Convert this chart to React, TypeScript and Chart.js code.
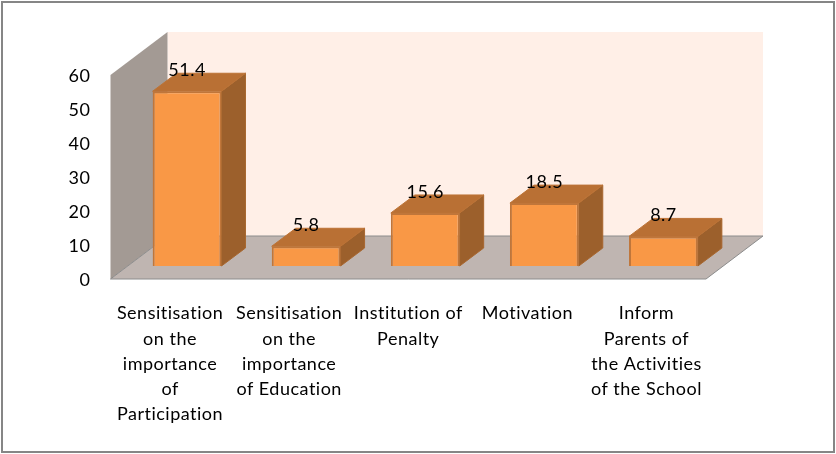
import React, { useEffect, useRef } from "react";
import { Chart, registerables, Plugin } from "chart.js";

Chart.register(...registerables);

const categories: (string | string[])[] = [
  ["Sensitisation", "on the", "importance", "of", "Participation"],
  ["Sensitisation", "on the", "importance", "of Education"],
  ["Institution of", "Penalty"],
  ["Motivation"],
  ["Inform", "Parents of", "the Activities", "of the School"],
];
const values = [51.4, 5.8, 15.6, 18.5, 8.7];

const FONT = "Lato";
const WALL_DX = 57;
const WALL_DY = -43;
const FRAME_SHIFT_Y = -1;
const BAR_SHIFT_X = 17;
const BAR_SHIFT_Y = -14;
const BAR_DX = 24;
const BAR_DY = -18;

function poly(ctx: CanvasRenderingContext2D, pts: number[][], fill: string | CanvasGradient, stroke?: string) {
  ctx.beginPath();
  pts.forEach((p, i) => (i ? ctx.lineTo(p[0], p[1]) : ctx.moveTo(p[0], p[1])));
  ctx.closePath();
  ctx.fillStyle = fill;
  ctx.fill();
  if (stroke) {
    ctx.strokeStyle = stroke;
    ctx.lineWidth = 1;
    ctx.stroke();
  }
}

const frame3d: Plugin<"bar"> = {
  id: "frame3d",
  beforeDraw(chart) {
    const { ctx, width, height } = chart;
    ctx.save();
    ctx.fillStyle = "#ffffff";
    ctx.fillRect(0, 0, width, height);
    ctx.strokeStyle = "#868686";
    ctx.lineWidth = 2;
    ctx.strokeRect(2, 2, width - 4, height - 4);
    ctx.restore();
    (ctx as any).letterSpacing = "0.5px";
  },
  beforeDatasetsDraw(chart) {
    const { ctx, chartArea: a } = chart;
    const { left: l, right: r } = a;
    const t = a.top + FRAME_SHIFT_Y;
    const b = a.bottom + FRAME_SHIFT_Y;
    ctx.save();
    // back wall
    poly(ctx, [[l + WALL_DX, t + WALL_DY], [r + WALL_DX, t + WALL_DY], [r + WALL_DX, b + WALL_DY], [l + WALL_DX, b + WALL_DY]], "#ffefe7");
    // left wall
    poly(ctx, [[l, t], [l + WALL_DX, t + WALL_DY], [l + WALL_DX, b + WALL_DY], [l, b]], "#a39a94");
    // floor
    poly(ctx, [[l, b], [r, b], [r + WALL_DX, b + WALL_DY], [l + WALL_DX, b + WALL_DY]], "#bfb5b1", "#8c8c8c");
    // side and top faces of the bars
    ctx.translate(BAR_SHIFT_X, BAR_SHIFT_Y);
    chart.getDatasetMeta(0).data.forEach((el: any) => {
      const hw = el.width / 2;
      const x0 = el.x - hw;
      const x1 = el.x + hw;
      poly(ctx, [[x1, el.y], [x1 + BAR_DX, el.y + BAR_DY], [x1 + BAR_DX, el.base + BAR_DY], [x1, el.base]], "#9c602c", "#a8672f");
      poly(ctx, [[x0, el.y], [x0 + BAR_DX, el.y + BAR_DY], [x1 + BAR_DX, el.y + BAR_DY], [x1, el.y]], "#b97034", "#bd7336");
    });
    // the library's own bars are painted inside this shift
  },
  afterDatasetsDraw(chart) {
    const { ctx } = chart;
    ctx.fillStyle = "#000000";
    ctx.font = `18px ${FONT}`;
    ctx.textAlign = "center";
    ctx.textBaseline = "middle";
    chart.getDatasetMeta(0).data.forEach((el: any, i: number) => {
      ctx.fillText(String(values[i].toFixed(1)), el.x, el.y - 21);
    });
    ctx.restore();
  },
};

export default function App() {
  const ref = useRef<HTMLCanvasElement>(null);
  useEffect(() => {
    const chart = new Chart(ref.current!, {
      type: "bar",
      data: {
        labels: categories as any,
        datasets: [
          {
            data: values,
            backgroundColor: "#f99846",
            borderColor: "#c0763a",
            borderWidth: 2,
            categoryPercentage: 1,
            barPercentage: 0.578,
            clip: false as any,
          },
        ],
      },
      options: {
        responsive: false,
        animation: false,
        devicePixelRatio: 1,
        layout: { padding: { left: 0, right: 130, top: 76, bottom: 0 } },
        plugins: { legend: { display: false }, tooltip: { enabled: false } },
        scales: {
          x: {
            grid: { display: false, drawTicks: false },
            border: { display: false },
            afterFit: (s: any) => {
              s.height = 174;
            },
            ticks: {
              autoSkip: false,
              maxRotation: 0,
              minRotation: 0,
              padding: 21,
              color: "#000000",
              font: { family: FONT, size: 18, lineHeight: 1.4 },
            },
          },
          y: {
            min: 0,
            max: 60,
            grid: { display: false, drawTicks: false },
            border: { display: false },
            afterFit: (s: any) => {
              s.width = 110.5;
            },
            ticks: {
              stepSize: 10,
              padding: 20,
              color: "#000000",
              font: { family: FONT, size: 18 },
            },
          },
        },
      },
      plugins: [frame3d],
    } as any);
    return () => chart.destroy();
  }, []);
  return (
    <div style={{ position: "absolute", left: 0, top: 0, width: 836, height: 454 }}>
      <canvas ref={ref} width={836} height={454} style={{ display: "block" }} />
    </div>
  );
}
